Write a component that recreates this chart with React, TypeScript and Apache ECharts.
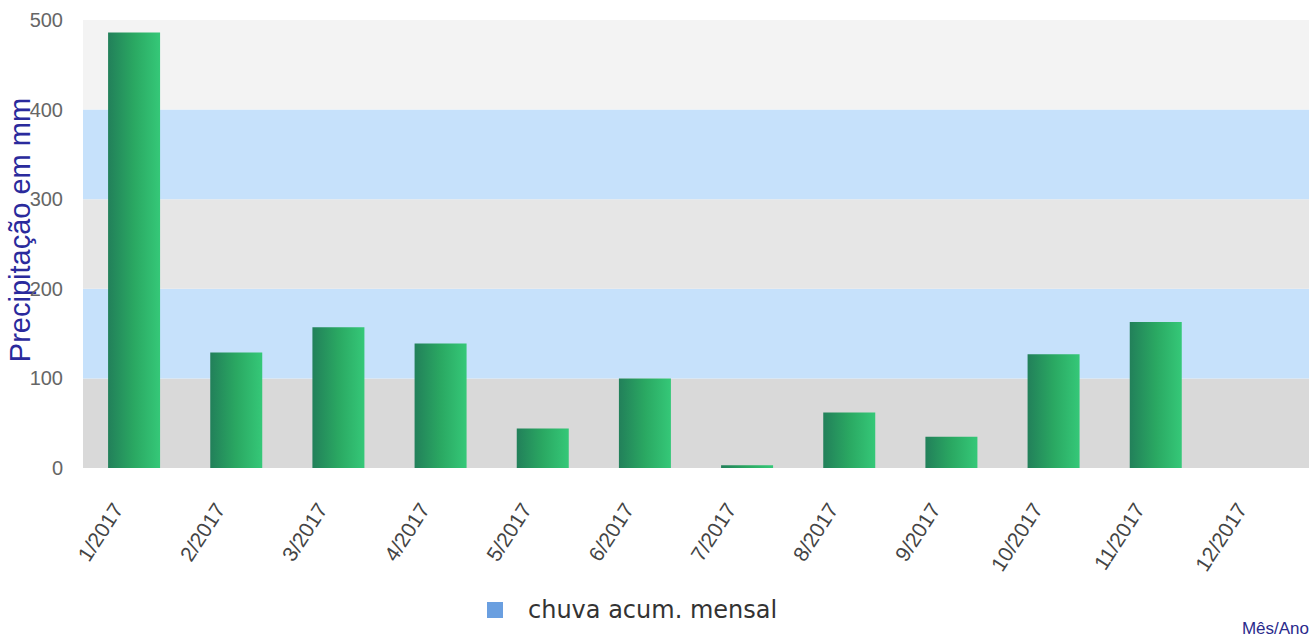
import React, { useEffect, useRef } from "react";
import * as echarts from "echarts";

const categories = ["1/2017", "2/2017", "3/2017", "4/2017", "5/2017", "6/2017", "7/2017", "8/2017", "9/2017", "10/2017", "11/2017", "12/2017"];
const rainValues = [486, 129, 157, 139, 44, 100, 3, 62, 35, 127, 163, 0];
const seriesName = "chuva acum. mensal";
const yMin = 0;
const yMax = 500;
const yInterval = 100;

export default function App() {
  const ref = useRef<HTMLDivElement>(null);
  useEffect(() => {
    if (!ref.current) return;
    const chart = echarts.init(ref.current, undefined, { renderer: "svg" });
    chart.setOption({
      animation: false,
      textStyle: { fontFamily: "Liberation Sans, Arial, sans-serif" },
      grid: { left: 83, right: 0, top: 20, bottom: 175, containLabel: false, outerBoundsMode: "none" },
      legend: {
        data: [{ name: seriesName, itemStyle: { color: "#6a9fe0" } }],
        left: 482,
        top: 593,
        itemWidth: 16,
        itemHeight: 16,
        icon: "rect",
        textStyle: { fontSize: 24, color: "#333", fontFamily: "DejaVu Sans", padding: [0, 0, 0, 20] },
      },
      xAxis: {
        type: "category",
        data: categories,
        name: "Mês/Ano",
        nameLocation: "end",
        nameGap: 0,
        nameMoveOverlap: false,
        nameTextStyle: { color: "#2a2a8c", fontSize: 17, align: "right", verticalAlign: "top", padding: [152, 0, 0, 0] },
        axisLine: { show: false },
        axisTick: { show: false },
        axisLabel: { rotate: 57, color: "#444", fontSize: 21, margin: 12, interval: 0, padding: [0, 30, 0, 0] },
      },
      yAxis: {
        type: "value",
        min: yMin,
        max: yMax,
        interval: yInterval,
        name: "Precipitação em mm",
        nameLocation: "middle",
        nameGap: 49,
        nameMoveOverlap: false,
        nameTextStyle: { color: "#2a2a9c", fontSize: 29, padding: [0, 0, 0, 28] },
        axisLine: { show: false },
        axisTick: { show: false },
        axisLabel: { color: "#666", fontSize: 20, margin: 20 },
        splitLine: { show: false },
        splitArea: {
          show: true,
          areaStyle: { color: ["#d9d9d9", "#c6e1fb", "#e6e6e6", "#c6e1fb", "#f3f3f3"] },
        },
      },
      series: [
        {
          name: seriesName,
          type: "bar",
          data: rainValues,
          barWidth: 52,
          itemStyle: {
            color: new echarts.graphic.LinearGradient(0, 0, 1, 0, [
              { offset: 0, color: "#22805a" },
              { offset: 0.5, color: "#2aa862" },
              { offset: 1, color: "#35c878" },
            ]),
          },
        },
      ],
    });
    return () => chart.dispose();
  }, []);
  return <div ref={ref} style={{ width: 1309, height: 643, position: "absolute", left: 0, top: 0 }} />;
}
